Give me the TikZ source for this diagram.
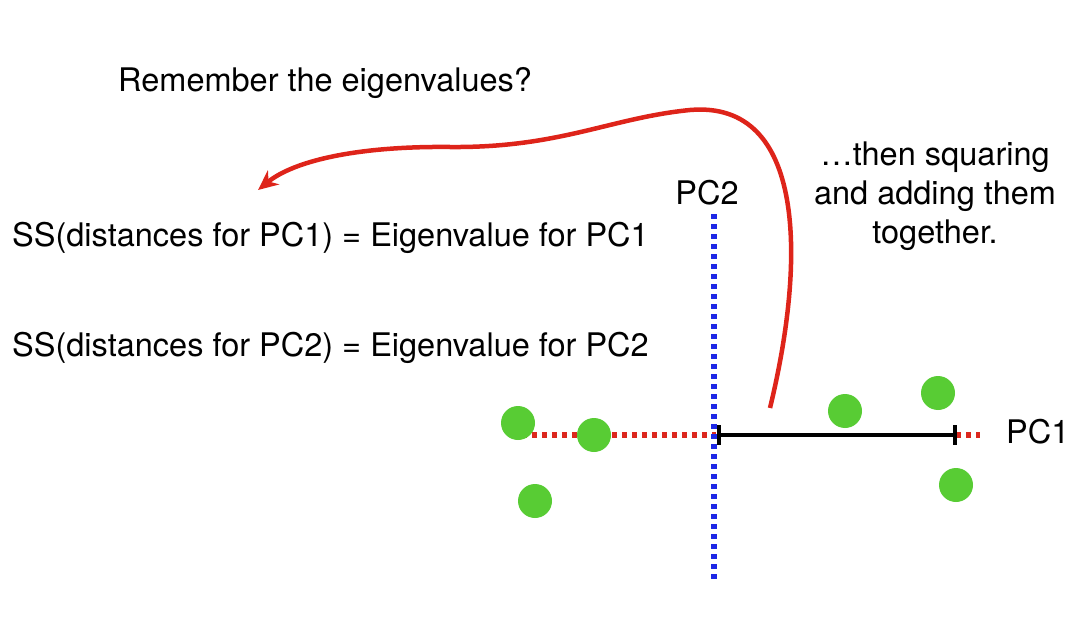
\documentclass[tikz,border=0pt]{standalone}
\usepackage{fontspec}
\setmainfont{TeX Gyre Heros}
\usetikzlibrary{arrows.meta}
\definecolor{dotgreen}{RGB}{88,204,52}
\definecolor{axisblue}{RGB}{30,40,230}
\definecolor{axisred}{RGB}{220,40,30}
\definecolor{curvered}{RGB}{222,36,26}
\begin{document}
\begin{tikzpicture}[x=1pt,y=-1pt,
  lbl/.style={inner sep=0pt,font=\fontsize{32.5}{39}\selectfont},
  pcaxis/.style={line width=5.5pt,dash pattern=on 5pt off 5pt},
  datapt/.style={circle,fill=dotgreen,minimum size=34pt,inner sep=0pt},
  tick/.style={line width=4.5pt},
  swoop/.style={draw=curvered,line width=4.5pt,-{Stealth[length=20pt,width=18pt]}}]
\useasboundingbox (0,0) rectangle (1080,626);

% text
\node[lbl,anchor=base west] (ask) at (118,92) {Remember the eigenvalues?};
\node[lbl,anchor=base west] (ss1) at (12,246) {SS(distances for PC1) = Eigenvalue for PC1};
\node[lbl,anchor=base west] (ss2) at (12,356) {SS(distances for PC2) = Eigenvalue for PC2};
\node[lbl,align=center] (note) at (935,196) {\ldots then squaring\\[0pt]and adding them\\[0pt]together.};
\node[lbl,anchor=base] (pc2) at (707,204) {PC2};
\node[lbl,anchor=base west] (pc1) at (1006,443) {PC1};

% axes
\coordinate (v0) at (714,214);
\coordinate (v1) at (714,582);
\coordinate (o) at (716,435);
\coordinate (hl) at (522,435);
\coordinate (hr) at (980,435);
\coordinate (e) at (956,435);
\draw[pcaxis,draw=axisred] (hl) -- (o);
\draw[pcaxis,draw=axisred] (e) -- (hr);
\draw[pcaxis,draw=axisblue] (v0) -- (v1);

% distance along PC1
\draw[tick] (719,435) -- (e);
\draw[tick] (719,425) -- (719,445);
\draw[tick] (955,425) -- (955,445);

% data points
\node[datapt] (p1) at (518,423) {};
\node[datapt] (p2) at (594,435) {};
\node[datapt] (p3) at (535,501) {};
\node[datapt] (p4) at (845,411) {};
\node[datapt] (p5) at (938,393) {};
\node[datapt] (p6) at (956,485) {};

% curved arrow back to the equations
\coordinate (cs) at (770,408);
\coordinate (ce) at (258,190);
\draw[swoop] (cs) .. controls (806,260) and (806,100) .. (690,110)
  .. controls (610,118) and (560,148) .. (450,147)
  .. controls (360,146) and (295,160) .. (ce);
\end{tikzpicture}
\end{document}
